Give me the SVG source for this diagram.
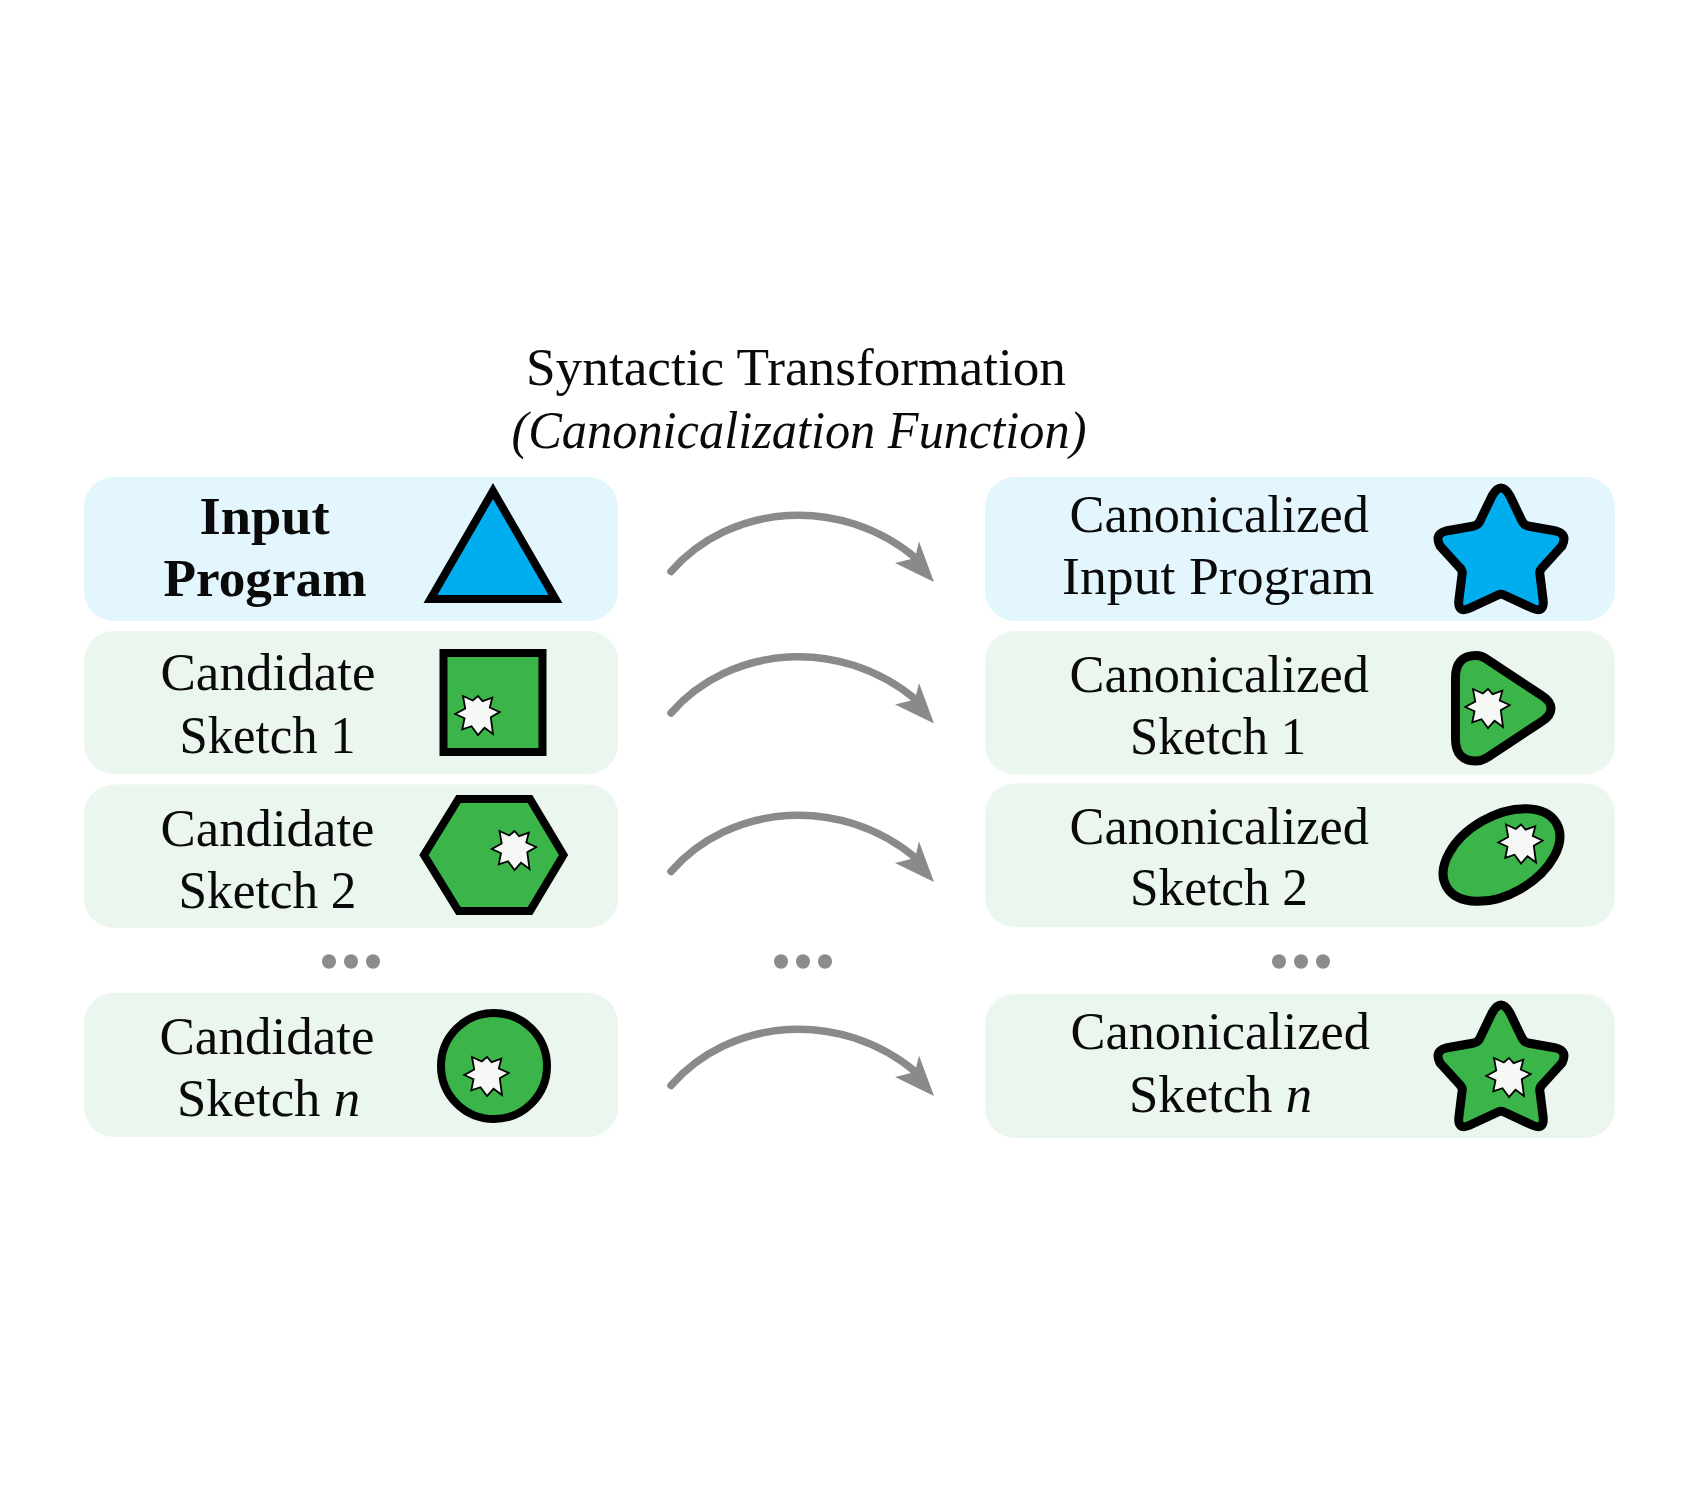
<svg xmlns="http://www.w3.org/2000/svg" width="1700" height="1500" viewBox="0 0 1700 1500">
<style>
text{font-family:"Liberation Serif","Times New Roman",serif;font-size:52px;fill:#0a0a0a}
.b{font-weight:700}.i{font-style:italic}
.pb{fill:#e4f6fd}.pg{fill:#eaf6ee}
.sh{stroke:#000;stroke-width:8}
.rd{stroke-width:9}
.blue{fill:#00aeef}.green{fill:#3bb54a}
.burst{fill:#f5f8f5;stroke:#000;stroke-width:1.8}
.arrow{fill:none;stroke:#8a8a8a;stroke-width:7.5;stroke-linecap:round}
.dot{fill:#8c8c8c}
</style>
<defs>
<path id="bs" class="burst" d="M-15-19L-5.200-14.500 0-19 4.600-13.800 14.300-17.300 11.800-7.500 21.700-3 12.800 2.300 15 19 6.500 12.800 0 20-6.500 11.200-15.700 14.300-13.500 3.300-22.700-1-12.800-6.500Z"/>
<path id="star" d="M1510,495 L1522,520 Q1524,524 1528,525 L1556,530 Q1568,533 1562,545 L1542,567 Q1539,570 1540,574 L1543,598 Q1545,613 1532,607 L1504,594 Q1501,592.500 1498,594 L1470,607 Q1457,613 1459,598 L1462,574 Q1463,570 1460,567 L1440,545 Q1434,533 1446,530 L1474,525 Q1478,524 1480,520 L1492,495 Q1501,479 1510,495 Z"/>
<path id="arc" class="arrow" d="M671,571.500 C730,504 840,494 917,559"/>
<path id="hd" fill="#8a8a8a" d="M934,582 L919,541.500 L915,558 L895,563 Z"/>
</defs>
<rect width="1700" height="1500" fill="#fff"/>

<g id="title">
<text x="526" y="385" textLength="540" lengthAdjust="spacingAndGlyphs">Syntactic Transformation</text>
<text class="i" x="511.500" y="448" textLength="575" lengthAdjust="spacingAndGlyphs">(Canonicalization Function)</text>
</g>

<g id="input-program">
<rect class="pb" x="84" y="477" width="534" height="144" rx="30"/>
<text class="b" x="199.500" y="534" textLength="130" lengthAdjust="spacingAndGlyphs">Input</text>
<text class="b" x="163.500" y="596" textLength="203" lengthAdjust="spacingAndGlyphs">Program</text>
<polygon class="sh blue" points="493,491 555.500,599 430.500,599"/>
</g>
<g id="candidate-1">
<rect class="pg" x="84" y="631" width="534" height="143" rx="30"/>
<text x="160.500" y="690" textLength="215" lengthAdjust="spacingAndGlyphs">Candidate</text>
<text x="179.500" y="752.500" textLength="176" lengthAdjust="spacingAndGlyphs">Sketch 1</text>
<rect class="sh green" x="443.500" y="653" width="99" height="99"/>
<use href="#bs" x="478" y="715"/>
</g>
<g id="candidate-2">
<rect class="pg" x="84" y="784.500" width="534" height="143.500" rx="30"/>
<text x="160.500" y="846" textLength="214" lengthAdjust="spacingAndGlyphs">Candidate</text>
<text x="178.500" y="908" textLength="178" lengthAdjust="spacingAndGlyphs">Sketch 2</text>
<polygon class="sh green" points="458.500,799 530,799 563.500,855 530,911 458.500,911 424,855"/>
<use href="#bs" x="514.500" y="850"/>
</g>
<g id="candidate-n">
<rect class="pg" x="84" y="993" width="534" height="144" rx="30"/>
<text x="159.500" y="1054" textLength="215" lengthAdjust="spacingAndGlyphs">Candidate</text>
<text x="177" y="1116" textLength="183" lengthAdjust="spacingAndGlyphs">Sketch <tspan class="i">n</tspan></text>
<circle class="sh green" cx="494" cy="1066" r="53"/>
<use href="#bs" x="487" y="1076"/>
</g>

<g id="canon-input">
<rect class="pb" x="985" y="477" width="630" height="144" rx="30"/>
<text x="1069.500" y="532" textLength="299.500" lengthAdjust="spacingAndGlyphs">Canonicalized</text>
<text x="1062" y="594" textLength="312" lengthAdjust="spacingAndGlyphs">Input Program</text>
<use href="#star" class="sh rd blue" y="1"/>
</g>
<g id="canon-1">
<rect class="pg" x="985" y="631" width="630" height="143.500" rx="30"/>
<text x="1069.500" y="692" textLength="299.500" lengthAdjust="spacingAndGlyphs">Canonicalized</text>
<text x="1130" y="753.500" textLength="176" lengthAdjust="spacingAndGlyphs">Sketch 1</text>
<path class="sh rd green" d="M1455.500,678 Q1455.500,655.500 1476,655.500 Q1482,655.500 1488,660 L1541,695 Q1551,701 1551,708.500 Q1551,716 1541,722 L1488,757 Q1482,761 1476,761 Q1455.500,761 1455.500,739 Z"/>
<use href="#bs" x="1488" y="708"/>
</g>
<g id="canon-2">
<rect class="pg" x="985" y="783.500" width="630" height="143.500" rx="30"/>
<text x="1069.500" y="844" textLength="299.500" lengthAdjust="spacingAndGlyphs">Canonicalized</text>
<text x="1130" y="905" textLength="178" lengthAdjust="spacingAndGlyphs">Sketch 2</text>
<ellipse class="sh rd green" cx="1501.500" cy="855" rx="63.500" ry="39" transform="rotate(-30 1501.500 855)"/>
<use href="#bs" x="1521" y="843.500"/>
</g>
<g id="canon-n">
<rect class="pg" x="985" y="994" width="630" height="144" rx="30"/>
<text x="1070.500" y="1049" textLength="299.500" lengthAdjust="spacingAndGlyphs">Canonicalized</text>
<text x="1129" y="1112" textLength="183" lengthAdjust="spacingAndGlyphs">Sketch <tspan class="i">n</tspan></text>
<use href="#star" class="sh rd green" y="518"/>
<use href="#bs" x="1509" y="1077"/>
</g>

<g id="connectors">
<g><use href="#arc"/><use href="#hd"/></g>
<g transform="translate(0 141.500)"><use href="#arc"/><use href="#hd"/></g>
<g transform="translate(0 300)"><use href="#arc"/><use href="#hd"/></g>
<g transform="translate(0 514)"><use href="#arc"/><use href="#hd"/></g>
</g>

<g id="ellipsis">
<ellipse class="dot" cx="329" cy="961.500" rx="7" ry="7.300"/><ellipse class="dot" cx="351" cy="961.500" rx="7" ry="7.300"/><ellipse class="dot" cx="373" cy="961.500" rx="7" ry="7.300"/>
<ellipse class="dot" cx="781" cy="961.500" rx="7" ry="7.300"/><ellipse class="dot" cx="803" cy="961.500" rx="7" ry="7.300"/><ellipse class="dot" cx="825" cy="961.500" rx="7" ry="7.300"/>
<ellipse class="dot" cx="1279" cy="961.500" rx="7" ry="7.300"/><ellipse class="dot" cx="1301" cy="961.500" rx="7" ry="7.300"/><ellipse class="dot" cx="1323" cy="961.500" rx="7" ry="7.300"/>
</g>
</svg>
